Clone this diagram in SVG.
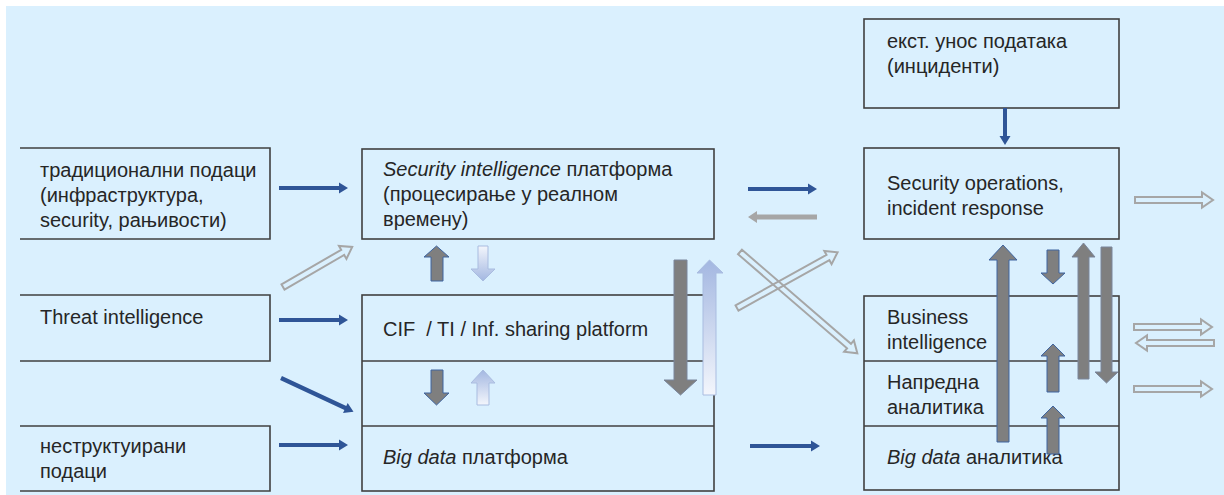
<svg xmlns="http://www.w3.org/2000/svg" width="1224" height="495" viewBox="0 0 1224 495">
<defs>
<style>
.box{fill:none;stroke:#404040;stroke-width:1.6}
.t{font-family:"Liberation Sans",Arial,sans-serif;font-size:20px;fill:#262626}
.it{font-style:italic}
.blue{fill:#2F5597}
.back{fill:#A6A6A6}
.hol{fill:none;stroke:#A6A6A6;stroke-width:2;stroke-linejoin:miter}
.dk{fill:#7F7F7F;stroke:#3F65A0;stroke-width:1}
.dg{fill:#7F7F7F;stroke:#7A869C;stroke-width:1}
.gu{fill:url(#gUp);stroke:#A9BCE0;stroke-width:1}
.gd{fill:url(#gDn);stroke:#A9BCE0;stroke-width:1}
</style>
<linearGradient id="gUp" x1="0" y1="0" x2="0" y2="1">
<stop offset="0" stop-color="#A3B7E1"/>
<stop offset="1" stop-color="#F3F6FC"/>
</linearGradient>
<linearGradient id="gDn" x1="0" y1="0" x2="0" y2="1">
<stop offset="0" stop-color="#F3F6FC"/>
<stop offset="1" stop-color="#A3B7E1"/>
</linearGradient>
</defs>
<rect x="6" y="6" width="1218" height="489" fill="#DAF0FE"/>

<g id="n-traditional">
<polyline class="box" points="20,148 270,148 270,239 20,239"/>
<text class="t" x="40" y="177">традиционални подаци</text>
<text class="t" x="40" y="202">(инфраструктура,</text>
<text class="t" x="40" y="227">security, рањивости)</text>
</g>
<g id="n-threat">
<polyline class="box" points="20,295 270,295 270,361 20,361"/>
<text class="t" x="40" y="324">Threat intelligence</text>
</g>
<g id="n-unstructured">
<polyline class="box" points="20,426 270,426 270,491 20,491"/>
<text class="t" x="40" y="453">неструктуирани</text>
<text class="t" x="40" y="478">подаци</text>
</g>

<g id="n-sip">
<rect class="box" x="362" y="149" width="352" height="90"/>
<text class="t" x="383" y="176"><tspan class="it">Security intelligence</tspan> платформа</text>
<text class="t" x="383" y="201">(процесирање у реалном</text>
<text class="t" x="383" y="226">времену)</text>
</g>
<g id="n-cif">
<rect class="box" x="362" y="295" width="352" height="196"/>
<line class="box" x1="362" y1="361" x2="714" y2="361"/>
<line class="box" x1="362" y1="426" x2="714" y2="426"/>
<text class="t" x="383" y="336">CIF &#160;/ TI / Inf. sharing platform</text>
<text class="t" x="383" y="464"><tspan class="it">Big data</tspan> платформа</text>
</g>

<g id="n-ext">
<rect class="box" x="864" y="19" width="255" height="89"/>
<text class="t" x="887" y="48">екст. унос података</text>
<text class="t" x="887" y="73">(инциденти)</text>
</g>
<g id="n-secops">
<rect class="box" x="864" y="148" width="255" height="91"/>
<text class="t" x="887" y="190">Security operations,</text>
<text class="t" x="887" y="215">incident response</text>
</g>
<g id="n-analytics">
<rect class="box" x="864" y="296" width="255" height="194"/>
<line class="box" x1="864" y1="361" x2="1119" y2="361"/>
<line class="box" x1="864" y1="426" x2="1119" y2="426"/>
<text class="t" x="887" y="324">Business</text>
<text class="t" x="887" y="349">intelligence</text>
<text class="t" x="887" y="389">Напредна</text>
<text class="t" x="887" y="414">аналитика</text>
<text class="t" x="887" y="464"><tspan class="it">Big data</tspan> аналитика</text>
</g>

<g id="connectors">
<polygon class="blue" points="279,186 339,186 339,182.5 348,188 339,193.5 339,190 279,190"/>
<polygon class="blue" points="279,318 339,318 339,314.5 348,320 339,325.5 339,322 279,322"/>
<polygon class="blue" points="279,443 339,443 339,439.5 348,445 339,450.5 339,447 279,447"/>
<polygon class="blue" points="748,187 808,187 808,183.5 817,189 808,194.5 808,191 748,191"/>
<polygon class="blue" points="750,444 811,444 811,440.5 820,446 811,451.5 811,448 750,448"/>
<polygon class="blue" transform="translate(281,378) rotate(25)" points="0,-2.2 71,-2.2 71,-5.5 80,0 71,5.5 71,2.2 0,2.2"/>
<polygon class="blue" points="1003,108 1003,136 999.5,136 1005,145 1010.5,136 1007,136 1007,108"/>
<polygon class="back" points="817,214.5 757,214.5 757,211 748,217 757,223 757,219.5 817,219.5"/>

<polygon class="hol" transform="translate(283,287) rotate(-30.1)" points="0,-3 69,-3 69,-7.5 80,0 69,7.5 69,3 0,3"/>
<polygon class="hol" transform="translate(737,308) rotate(-29)" points="0,-3 104,-3 104,-7.5 115,0 104,7.5 104,3 0,3"/>
<polygon class="hol" transform="translate(740,252) rotate(40.8)" points="0,-3 144,-3 144,-7.5 155,0 144,7.5 144,3 0,3"/>
<polygon class="hol" transform="translate(1135,200)" points="0,-3 67,-3 67,-7.5 78,0 67,7.5 67,3 0,3"/>
<polygon class="hol" transform="translate(1134,327)" points="0,-3 67,-3 67,-7.5 78,0 67,7.5 67,3 0,3"/>
<polygon class="hol" transform="translate(1214,343) rotate(180)" points="0,-3 67,-3 67,-7.5 78,0 67,7.5 67,3 0,3"/>
<polygon class="hol" transform="translate(1134,389)" points="0,-3 67,-3 67,-7.5 78,0 67,7.5 67,3 0,3"/>

<polygon class="dk" points="431,281 431,257 424,257 436.5,246 449,257 443,257 443,281"/>
<polygon class="gd" points="478,246 478,269 471,269 483,281 495,269 488,269 488,246"/>
<polygon class="dk" points="431,370 431,393 424,393 436.5,405 449,393 443,393 443,370"/>
<polygon class="gu" points="477,405 477,383 471,383 483,370 495,383 489,383 489,405"/>
<polygon class="dg" points="674,260 674,380 664,380 680.5,395 697,380 687,380 687,260"/>
<polygon class="gu" points="703,395 703,273 697,273 709.5,260 723,273 716,273 716,395"/>

<polygon class="dk" points="997,442 997,260 989,260 1003,245 1017,260 1009,260 1009,442"/>
<polygon class="dk" points="1047,250 1047,273 1041,273 1053,284 1065,273 1059,273 1059,250"/>
<polygon class="dg" points="1078,379 1078,257 1072,257 1083.5,243 1095,257 1089,257 1089,379"/>
<polygon class="dg" points="1101,247 1101,372 1095,372 1106.5,383 1118,372 1112,372 1112,247"/>
<polygon class="dk" points="1047,392 1047,356 1041,356 1053,344 1065,356 1059,356 1059,392"/>
<polygon class="dk" points="1047,454 1047,418 1041,418 1053,406 1065,418 1059,418 1059,454"/>
</g>
</svg>
